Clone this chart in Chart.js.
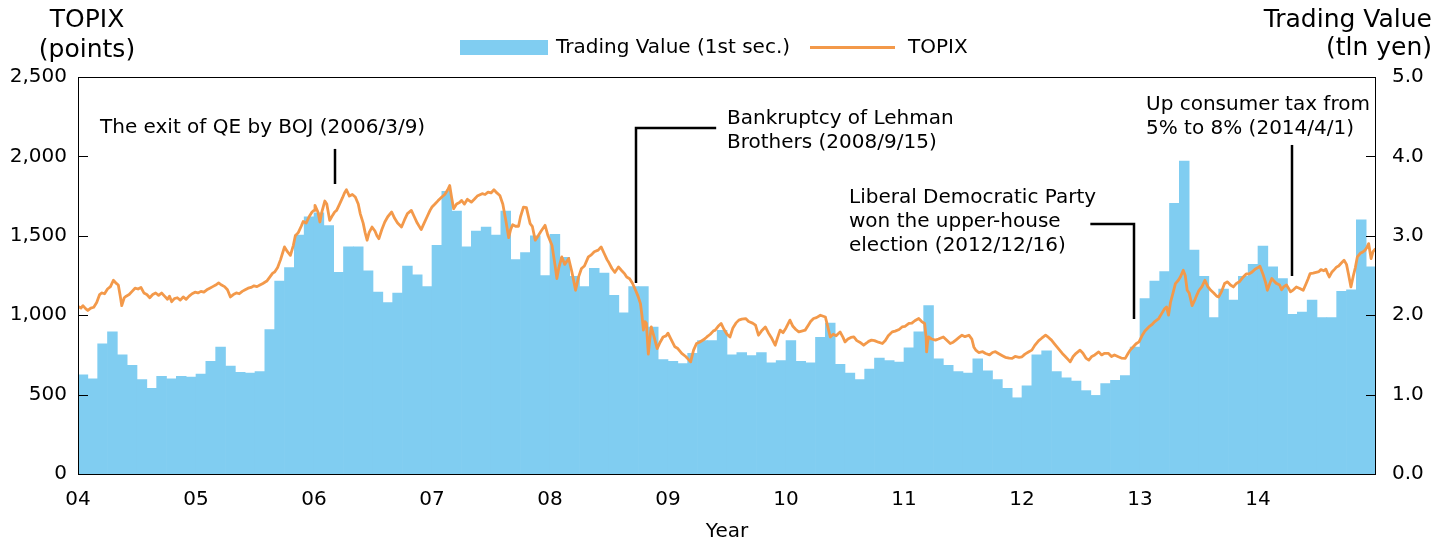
<!DOCTYPE html>
<html>
<head>
<meta charset="utf-8">
<script src="https://cdn.jsdelivr.net/npm/chart.js@4.4.1/dist/chart.umd.min.js"></script>
<style>
  html, body { margin: 0; padding: 0; background: #fff; }
  #wrap { width: 1451px; height: 544px; }
</style>
</head>
<body>
<div id="wrap"><canvas id="topixChart" width="1451" height="544"></canvas></div>
<script>
//<![CDATA[

// year tick labels, one per January (x = months since Jan 2004)
let yearLabels = ['04', '05', '06', '07', '08', '09', '10', '11', '12', '13', '14'];

// monthly trading value, 1st section (tln yen), Jan 2004 - Dec 2014
let tradingValue = [
    1.25, 1.20, 1.64, 1.79, 1.50, 1.37, 1.19, 1.08, 1.23, 1.20, 1.23, 1.22,
    1.26, 1.42, 1.60, 1.36, 1.28, 1.27, 1.29, 1.82, 2.43, 2.60, 3.01, 3.24,
    3.29, 3.13, 2.54, 2.86, 2.86, 2.56, 2.29, 2.16, 2.28, 2.62, 2.51, 2.36,
    2.88, 3.56, 3.31, 2.86, 3.06, 3.11, 3.01, 3.31, 2.70, 2.79, 3.00, 2.50,
    3.02, 2.73, 2.49, 2.36, 2.59, 2.53, 2.25, 2.03, 2.36, 2.36, 1.85, 1.44,
    1.42, 1.39, 1.52, 1.68, 1.68, 1.81, 1.50, 1.53, 1.49, 1.53, 1.40, 1.43,
    1.68, 1.42, 1.40, 1.72, 1.90, 1.38, 1.27, 1.19, 1.32, 1.46, 1.43, 1.41,
    1.59, 1.79, 2.12, 1.45, 1.37, 1.29, 1.27, 1.45, 1.30, 1.19, 1.08, 0.96,
    1.11, 1.50, 1.55, 1.29, 1.21, 1.17, 1.05, 0.99, 1.14, 1.18, 1.24, 1.60,
    2.21, 2.43, 2.55, 3.41, 3.94, 2.82, 2.49, 1.97, 2.33, 2.19, 2.49, 2.64,
    2.87, 2.61, 2.46, 2.01, 2.04, 2.19, 1.97, 1.97, 2.30, 2.32, 3.20, 2.61
];

// TOPIX (points): [months since Jan 2004, value]
let topixSeries = [
    [0.0, 1055], [0.3, 1045], [0.5, 1060], [0.8, 1040], [1.0, 1030], [1.3, 1045], [1.6, 1050], [1.9, 1080],
    [2.2, 1130], [2.4, 1140], [2.7, 1135], [3.0, 1165], [3.3, 1180], [3.6, 1220], [3.9, 1200], [4.1, 1190],
    [4.3, 1120], [4.45, 1060], [4.7, 1110], [4.9, 1120], [5.2, 1130], [5.5, 1150], [5.8, 1170], [6.1, 1165],
    [6.4, 1175], [6.7, 1140], [7.0, 1130], [7.3, 1110], [7.6, 1130], [7.9, 1140], [8.2, 1125], [8.5, 1140],
    [8.8, 1120], [9.1, 1100], [9.3, 1120], [9.53, 1085], [9.8, 1105], [10.1, 1110], [10.4, 1095], [10.7, 1115],
    [11.0, 1100], [11.3, 1120], [11.6, 1135], [11.9, 1145],
    [12.2, 1140], [12.5, 1150], [12.8, 1145], [13.1, 1160], [13.4, 1170], [13.7, 1180], [14.0, 1190], [14.3, 1203],
    [14.6, 1190], [14.9, 1180], [15.2, 1160], [15.5, 1115], [15.8, 1130], [16.1, 1140], [16.4, 1135], [16.7, 1150],
    [17.0, 1160], [17.3, 1170], [17.6, 1175], [17.9, 1185], [18.2, 1180], [18.5, 1190], [18.8, 1200], [19.2, 1215],
    [19.5, 1240], [19.8, 1265], [20.0, 1272], [20.3, 1300], [20.6, 1350], [20.8, 1390], [21.0, 1430], [21.3, 1400],
    [21.6, 1377], [21.9, 1440], [22.1, 1500], [22.4, 1520], [22.7, 1560], [22.9, 1590], [23.2, 1580], [23.5, 1620],
    [23.8, 1650],
    [24.0, 1660], [24.1, 1692], [24.4, 1650], [24.6, 1587], [24.8, 1650], [25.1, 1719], [25.3, 1700], [25.6, 1597],
    [25.9, 1630], [26.1, 1650], [26.3, 1660], [26.6, 1700], [26.9, 1740], [27.1, 1770], [27.3, 1790], [27.6, 1750],
    [27.9, 1760], [28.2, 1744], [28.5, 1700], [28.7, 1640], [29.0, 1580], [29.2, 1520], [29.4, 1472], [29.6, 1520],
    [29.9, 1555], [30.2, 1530], [30.4, 1500], [30.6, 1482], [30.9, 1540], [31.2, 1587], [31.5, 1620], [31.9, 1650],
    [32.2, 1610], [32.5, 1580], [32.9, 1555], [33.2, 1600], [33.5, 1640], [33.9, 1660], [34.2, 1620], [34.5, 1580],
    [34.9, 1539], [35.2, 1580], [35.5, 1620], [35.8, 1660],
    [36.0, 1681], [36.3, 1700], [36.6, 1720], [37.0, 1744], [37.3, 1760], [37.6, 1790], [37.8, 1817], [38.0, 1740],
    [38.2, 1671], [38.5, 1700], [38.8, 1710], [39.0, 1723], [39.3, 1700], [39.6, 1730], [40.0, 1712], [40.3, 1730],
    [40.6, 1750], [41.1, 1765], [41.4, 1760], [41.7, 1775], [42.0, 1770], [42.3, 1790], [42.6, 1770], [42.9, 1754],
    [43.2, 1700], [43.5, 1600], [43.8, 1488], [44.0, 1540], [44.2, 1570], [44.5, 1560], [44.8, 1560], [45.0, 1620],
    [45.3, 1681], [45.6, 1677], [45.98, 1577], [46.2, 1560], [46.5, 1472], [46.8, 1500], [47.1, 1530], [47.5, 1566],
    [47.8, 1500],
    [48.0, 1470], [48.2, 1440], [48.5, 1320], [48.7, 1231], [48.9, 1300], [49.2, 1367], [49.5, 1320], [49.9, 1357],
    [50.2, 1280], [50.4, 1220], [50.6, 1157], [50.9, 1240], [51.2, 1294], [51.5, 1310], [51.9, 1367], [52.2, 1380],
    [52.5, 1400], [52.9, 1410], [53.2, 1430], [53.5, 1390], [53.8, 1350], [54.0, 1330], [54.3, 1294], [54.6, 1270],
    [54.96, 1304], [55.3, 1280], [55.6, 1260], [55.8, 1241], [56.1, 1230], [56.4, 1200], [56.7, 1157], [56.95, 1120],
    [57.2, 1073], [57.35, 1000], [57.5, 906], [57.65, 960], [57.8, 950], [57.95, 800], [58.0, 755], [58.15, 850],
    [58.3, 926], [58.6, 860], [58.9, 790], [59.2, 830], [59.5, 863], [59.8, 870],
    [60.0, 887], [60.3, 850], [60.7, 801], [61.0, 790], [61.4, 759], [61.8, 740], [62.1, 720], [62.3, 706],
    [62.6, 780], [62.9, 822], [63.2, 830], [63.6, 845], [63.95, 863], [64.3, 880], [64.6, 900], [64.8, 906],
    [65.1, 930], [65.4, 948], [65.7, 910], [66.0, 880], [66.3, 863], [66.6, 920], [66.9, 950], [67.2, 969],
    [67.5, 975], [67.9, 979], [68.2, 960], [68.6, 950], [68.9, 937], [69.2, 874], [69.5, 900], [69.9, 926],
    [70.2, 890], [70.5, 860], [70.9, 811], [71.1, 850], [71.4, 906], [71.7, 890],
    [72.0, 920], [72.4, 969], [72.7, 930], [73.0, 910], [73.3, 895], [73.6, 900], [73.95, 906], [74.3, 940],
    [74.5, 960], [74.8, 979], [75.1, 985], [75.5, 1000], [76.0, 989], [76.2, 940], [76.5, 863], [76.8, 880],
    [77.1, 870], [77.5, 895], [77.8, 860], [78.0, 832], [78.3, 850], [78.6, 860], [78.9, 863], [79.2, 840],
    [79.5, 830], [79.9, 811], [80.2, 825], [80.4, 835], [80.7, 843], [81.0, 840], [81.4, 830], [81.8, 822],
    [82.1, 840], [82.4, 870], [82.8, 895], [83.1, 900], [83.5, 910], [83.8, 926],
    [84.1, 930], [84.5, 948], [84.8, 950], [85.1, 965], [85.5, 979], [85.8, 960], [86.1, 948], [86.25, 860],
    [86.3, 769], [86.4, 830], [86.5, 863], [86.8, 850], [87.2, 843], [87.5, 850], [88.0, 863], [88.3, 845],
    [88.7, 822], [89.0, 830], [89.3, 845], [89.6, 860], [89.9, 874], [90.2, 865], [90.6, 874], [90.9, 850],
    [91.1, 800], [91.3, 780], [91.6, 765], [92.0, 770], [92.3, 759], [92.7, 750], [93.0, 765], [93.3, 770],
    [93.6, 759], [94.0, 745], [94.3, 735], [94.7, 730], [95.0, 728], [95.3, 740], [95.7, 735],
    [96.0, 738], [96.3, 755], [96.7, 770], [97.0, 780], [97.3, 810], [97.7, 840], [98.0, 855], [98.4, 874],
    [98.7, 860], [99.0, 843], [99.3, 820], [99.7, 790], [100.1, 759], [100.4, 740], [100.7, 720], [100.9, 706],
    [101.2, 740], [101.5, 760], [101.9, 780], [102.2, 760], [102.5, 730], [102.8, 717], [103.1, 740], [103.4, 750],
    [103.8, 769], [104.1, 750], [104.4, 760], [104.8, 759], [105.1, 740], [105.4, 750], [105.8, 738], [106.1, 730],
    [106.5, 728], [106.8, 760], [107.0, 780], [107.3, 800], [107.6, 820], [107.9, 832],
    [108.2, 870], [108.5, 900], [108.9, 926], [109.2, 940], [109.5, 960], [109.9, 979], [110.2, 1010], [110.5, 1040],
    [110.7, 1052], [110.9, 1000], [111.1, 1080], [111.4, 1150], [111.6, 1199], [111.9, 1220], [112.1, 1240], [112.4, 1283],
    [112.6, 1250], [112.8, 1157], [113.0, 1140], [113.3, 1060], [113.6, 1100], [113.8, 1130], [114.0, 1157], [114.3, 1180],
    [114.6, 1220], [114.9, 1180], [115.2, 1157], [115.5, 1140], [115.8, 1120], [116.0, 1115], [116.3, 1150], [116.6, 1200],
    [116.9, 1210], [117.2, 1190], [117.5, 1178], [117.8, 1200], [118.1, 1210], [118.5, 1241], [118.8, 1260], [119.1, 1260],
    [119.4, 1272], [119.7, 1290],
    [120.0, 1300], [120.2, 1308], [120.5, 1260], [120.8, 1200], [120.95, 1157], [121.2, 1200], [121.4, 1231], [121.7, 1210],
    [121.9, 1199], [122.2, 1190], [122.4, 1160], [122.6, 1178], [122.9, 1190], [123.1, 1170], [123.3, 1147], [123.6, 1160],
    [123.9, 1178], [124.2, 1170], [124.6, 1157], [124.9, 1200], [125.1, 1230], [125.3, 1262], [125.6, 1265], [125.9, 1270],
    [126.2, 1275], [126.4, 1287], [126.7, 1280], [126.9, 1290], [127.1, 1260], [127.25, 1241], [127.5, 1270], [127.8, 1290],
    [128.0, 1304], [128.2, 1310], [128.5, 1330], [128.75, 1346], [129.0, 1320], [129.2, 1260], [129.45, 1178], [129.7, 1250],
    [129.9, 1300], [130.1, 1367], [130.4, 1390], [130.7, 1400], [130.9, 1410], [131.1, 1430], [131.25, 1451], [131.5, 1357],
    [131.7, 1400], [131.95, 1420]
];

let barColor = '#80CDF1';
let lineColor = '#F3994A';
let fontFamily = '"DejaVu Sans", "Liberation Sans", sans-serif';

// event notes: t = months since Jan 2004, line ends in TOPIX points
let notes = [
    { text: ['The exit of QE by BOJ (2006/3/9)'], tx: 100, ty: 128, t: 26.14, top: 2047, bottom: 1826 },
    { text: ['Bankruptcy of Lehman', 'Brothers (2008/9/15)'], tx: 727, ty: 119, t: 56.77, top: 2179, bottom: 1203, armTo: 64.9 },
    { text: ['Liberal Democratic Party', 'won the upper-house', 'election (2012/12/16)'], tx: 849, ty: 198, t: 107.4, top: 1574, bottom: 976, armTo: 102.95 },
    { text: ['Up consumer tax from', '5% to 8% (2014/4/1)'], tx: 1146, ty: 105, t: 123.5, top: 2072, bottom: 1247 }
];

const decorPlugin = {
    id: 'decor',
    afterDraw(chart) {
        const ctx = chart.ctx;
        const a = chart.chartArea;
        const x = chart.scales.x;
        const y = chart.scales.y;
        const y1 = chart.scales.y1;
        ctx.save();

        // frame
        ctx.strokeStyle = '#000';
        ctx.lineWidth = 1;
        ctx.strokeRect(Math.round(a.left) + 0.5, Math.round(a.top) + 0.5,
            Math.round(a.right - a.left) - 1, Math.round(a.bottom - a.top));

        // inward ticks
        ctx.beginPath();
        y.ticks.forEach(t => {
            let py = Math.round(y.getPixelForValue(t.value)) + 0.5;
            ctx.moveTo(a.left, py);
            ctx.lineTo(a.left + 10, py);
        });
        y1.ticks.forEach(t => {
            let py = Math.round(y1.getPixelForValue(t.value)) + 0.5;
            ctx.moveTo(a.right - 10, py);
            ctx.lineTo(a.right, py);
        });
        ctx.stroke();

        // axis titles
        ctx.fillStyle = '#000';
        ctx.textBaseline = 'middle';
        ctx.font = '25px ' + fontFamily;
        ctx.textAlign = 'center';
        ctx.fillText('TOPIX', 87, 20);
        ctx.fillText('(points)', 87, 50);
        ctx.textAlign = 'right';
        ctx.fillText('Trading Value', 1432, 20);
        ctx.fillText('(tln yen)', 1432, 48);

        // legend
        ctx.font = '20px ' + fontFamily;
        ctx.textAlign = 'left';
        ctx.fillStyle = barColor;
        ctx.fillRect(460, 40, 88, 15);
        ctx.fillStyle = '#000';
        ctx.fillText('Trading Value (1st sec.)', 556, 48);
        ctx.strokeStyle = lineColor;
        ctx.lineWidth = 2.8;
        ctx.beginPath();
        ctx.moveTo(810, 47.5);
        ctx.lineTo(895, 47.5);
        ctx.stroke();
        ctx.fillText('TOPIX', 908, 48);

        // event notes
        ctx.strokeStyle = '#000';
        ctx.lineWidth = 2.5;
        notes.forEach(n => {
            n.text.forEach((s, i) => ctx.fillText(s, n.tx, n.ty + i * 24));
            let px = Math.round(x.getPixelForValue(n.t));
            let pTop = y.getPixelForValue(n.top);
            let pBot = y.getPixelForValue(n.bottom);
            ctx.beginPath();
            if (n.armTo !== undefined) {
                ctx.moveTo(x.getPixelForValue(n.armTo), pTop);
                ctx.lineTo(px, pTop);
            } else {
                ctx.moveTo(px, pTop);
            }
            ctx.lineTo(px, pBot);
            ctx.stroke();
        });
        ctx.restore();
    }
};

Chart.defaults.font.family = fontFamily;
Chart.defaults.font.size = 20;
Chart.defaults.color = '#000';

const ctx = document.getElementById('topixChart');
const topixChart = new Chart(ctx, {
    type: 'bar',
    data: {
        datasets: [
            {
                type: 'line',
                label: 'TOPIX',
                data: topixSeries.map(p => ({ x: p[0], y: p[1] })),
                borderColor: lineColor,
                borderWidth: 2.8,
                borderJoinStyle: 'round',
                pointRadius: 0,
                tension: 0,
                yAxisID: 'y',
                order: 0
            },
            {
                type: 'bar',
                label: 'Trading Value (1st sec.)',
                data: tradingValue.map((v, i) => ({ x: i + 0.5, y: v })),
                backgroundColor: barColor,
                borderWidth: 0,
                barPercentage: 1,
                categoryPercentage: 1,
                yAxisID: 'y1',
                order: 1
            }
        ]
    },
    options: {
        responsive: false,
        animation: false,
        layout: {
            padding: { top: 77, left: 0, right: 0, bottom: 0 }
        },
        plugins: {
            legend: { display: false },
            tooltip: { enabled: false }
        },
        scales: {
            x: {
                type: 'linear',
                min: 0,
                max: 132,
                offset: false,
                grid: { display: false, drawTicks: false, offset: false },
                border: { display: false },
                afterBuildTicks: s => { s.ticks = yearLabels.map((_, i) => ({ value: i * 12 })); },
                ticks: {
                    padding: 14,
                    maxRotation: 0,
                    autoSkip: false,
                    callback: (v, i) => yearLabels[i]
                },
                title: {
                    display: true,
                    text: 'Year',
                    font: { size: 20 },
                    padding: { top: 0, bottom: 0 }
                },
                afterFit: s => { s.height = 70; }
            },
            y: {
                position: 'left',
                min: 0,
                max: 2500,
                grid: { display: false, drawTicks: false },
                border: { display: false },
                ticks: {
                    stepSize: 500,
                    padding: 11,
                    callback: v => v.toLocaleString('en-US')
                },
                afterFit: s => { s.width = 78; }
            },
            y1: {
                position: 'right',
                min: 0,
                max: 5,
                grid: { display: false, drawTicks: false },
                border: { display: false },
                ticks: {
                    stepSize: 1,
                    padding: 16,
                    callback: v => v.toFixed(1)
                },
                afterFit: s => { s.width = 75; }
            }
        }
    },
    plugins: [decorPlugin]
});

// ]]>
</script>
</body>
</html>
